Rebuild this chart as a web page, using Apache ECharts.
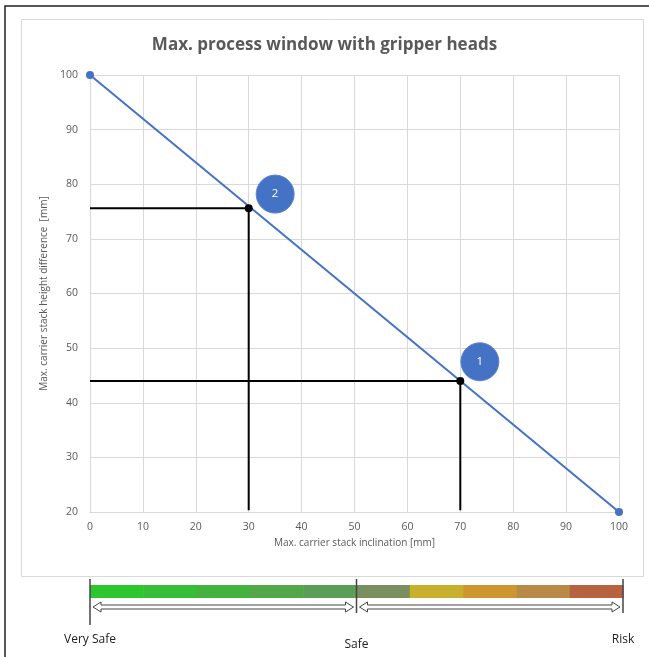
<!DOCTYPE html>
<html>
<head>
<meta charset="utf-8">
<script src="https://cdn.jsdelivr.net/npm/echarts@6/dist/echarts.min.js"></script>
<style>
  html, body { margin: 0; padding: 0; background: #fff; }
  #chart { width: 649px; height: 657px; }
</style>
</head>
<body>
<div id="chart"></div>
<script>
// main limit line
var lineX = [0, 100];
var lineY = [100, 20];
// working points on the limit line
var workPoints = [[30, 75.6], [70, 44]];
// numbered callouts [x, y, label]
var callouts = [[35, 78.2, '2'], [73.7, 47.5, '1']];
// risk scale
var riskColors = ['#2ec62e', '#38bd38', '#44b23f', '#52a848', '#5b9e57',
                  '#7a8f5f', '#c8b02e', '#cd962e', '#b98a45', '#b8633f'];
var riskLabels = ['Very Safe', 'Safe', 'Risk'];
var riskMarks = [0, 50, 100];

var font = 'Open Sans';
var gray = '#595959';

var chart = echarts.init(document.getElementById('chart'));

// guide lines from each point to the axes
var guideSeries = workPoints.map(function (p) {
    return {
        type: 'line',
        data: [[0, p[1]], [p[0], p[1]], [p[0], 20.3]],
        symbol: 'none',
        lineStyle: { color: '#000', width: 2 },
        z: 3,
        silent: true
    };
});

var option = {
    animation: false,
    title: {
        text: 'Max. process window with gripper heads',
        left: 'center',
        top: 32,
        textStyle: { fontFamily: font, fontSize: 17, fontWeight: 'bold', color: gray }
    },
    grid: [
        { left: 90, right: 30, top: 75, bottom: 145 },
        { left: 90, right: 26, top: 585, height: 13 }
    ],
    xAxis: [{
        gridIndex: 0, type: 'value', min: 0, max: 100, interval: 10,
        name: 'Max. carrier stack inclination [mm]',
        nameLocation: 'middle', nameGap: 22,
        nameTextStyle: { fontFamily: font, fontSize: 10, color: gray },
        axisLine: { show: true, lineStyle: { color: '#d9d9d9' } },
        axisTick: { show: false },
        axisLabel: { fontFamily: font, fontSize: 10.5, color: gray, margin: 10 },
        splitLine: { lineStyle: { color: '#d9d9d9' } }
    }, {
        gridIndex: 1, type: 'value', min: 0, max: 100, show: false
    }],
    yAxis: [{
        gridIndex: 0, type: 'value', min: 20, max: 100, interval: 10,
        name: 'Max. carrier stack height difference  [mm]',
        nameLocation: 'middle', nameGap: 38,
        nameTextStyle: { fontFamily: font, fontSize: 10, color: gray },
        axisLine: { show: true, lineStyle: { color: '#d9d9d9' } },
        axisTick: { show: false },
        axisLabel: { fontFamily: font, fontSize: 10.5, color: gray, margin: 12 },
        splitLine: { lineStyle: { color: '#d9d9d9' } }
    }, {
        gridIndex: 1, type: 'value', min: 0, max: 1, show: false
    }],
    series: [{
        type: 'line',
        data: lineX.map(function (x, i) { return [x, lineY[i]]; }),
        symbol: 'circle', symbolSize: 8,
        itemStyle: { color: '#4472c4' },
        lineStyle: { color: '#4472c4', width: 2 },
        z: 4
    }].concat(guideSeries).concat([{
        type: 'scatter',
        data: workPoints,
        symbolSize: 8,
        itemStyle: { color: '#000', opacity: 1 },
        z: 5
    }, {
        type: 'scatter',
        data: callouts,
        symbolSize: 38,
        itemStyle: { color: '#4472c4', borderColor: '#5f82cc', borderWidth: 1, opacity: 1 },
        label: {
            show: true, position: 'inside',
            formatter: function (p) { return p.data[2]; },
            color: '#fff', fontFamily: font, fontSize: 11.5
        },
        z: 6
    }, {
        // risk colour scale
        type: 'custom',
        xAxisIndex: 1, yAxisIndex: 1,
        data: riskColors.map(function (c, i) { return [i * 10, i * 10 + 10]; }),
        renderItem: function (params, api) {
            var a = api.coord([api.value(0), 1]);
            var b = api.coord([api.value(1), 0]);
            return {
                type: 'rect',
                shape: { x: a[0], y: a[1], width: b[0] - a[0] + 0.5, height: b[1] - a[1] },
                style: { fill: riskColors[params.dataIndex] }
            };
        },
        silent: true
    }, {
        // boundary marks, arrows and labels of the risk scale
        type: 'custom',
        xAxisIndex: 1, yAxisIndex: 1,
        data: riskMarks.map(function (m) { return [m]; }),
        renderItem: function (params, api) {
            var i = params.dataIndex;
            var x = api.coord([api.value(0), 0])[0];
            var top = api.coord([0, 1])[1];
            var children = [{
                type: 'line',
                shape: { x1: x, y1: top - 6, x2: x, y2: top + 28 + (i === 0 ? 12 : 0) },
                style: { stroke: '#444', lineWidth: 1.5 }
            }, {
                type: 'text',
                x: x, y: top + (i === 1 ? 60 : 55),
                style: {
                    text: riskLabels[i], fontFamily: font, fontSize: 12, fill: '#222',
                    align: 'center', verticalAlign: 'middle'
                }
            }];
            if (i < riskMarks.length - 1) {
                var x2 = api.coord([riskMarks[i + 1], 0])[0];
                var l = x + 3, r = x2 - 3, cy = top + 22, h = 2, hw = 5, hl = 8;
                children.push({
                    type: 'polygon',
                    shape: { points: [
                        [l, cy], [l + hl, cy - hw], [l + hl, cy - h], [r - hl, cy - h],
                        [r - hl, cy - hw], [r, cy], [r - hl, cy + hw], [r - hl, cy + h],
                        [l + hl, cy + h], [l + hl, cy + hw]
                    ] },
                    style: { fill: '#fff', stroke: '#444', lineWidth: 1 }
                });
            }
            return { type: 'group', children: children };
        },
        silent: true
    }]),
    graphic: [{
        type: 'rect',
        shape: { x: 21.5, y: 19.5, width: 622, height: 557 },
        style: { fill: 'none', stroke: '#d9d9d9', lineWidth: 1 },
        silent: true
    }, {
        type: 'polyline',
        shape: { points: [[5, 657], [5, 6], [649, 6]] },
        style: { fill: 'none', stroke: '#222', lineWidth: 1.5 },
        silent: true
    }]
};

chart.setOption(option);
</script>
</body>
</html>
